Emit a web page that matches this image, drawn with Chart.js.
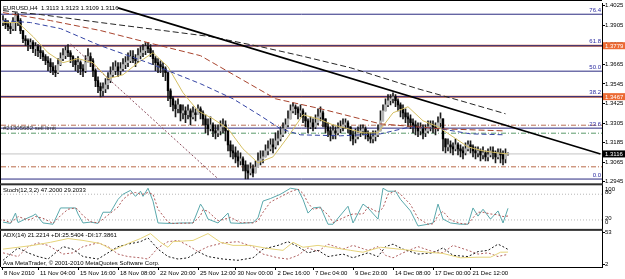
<!DOCTYPE html>
<html>
<head>
<meta charset="utf-8">
<script src="https://cdn.jsdelivr.net/npm/chart.js@4.4.0/dist/chart.umd.min.js"></script>
<style>
html, body { margin: 0; padding: 0; background: #fff; overflow: hidden; }
</style>
</head>
<body>
<canvas id="chart" width="625" height="279"></canvas>
<script>
// EURUSD H4, 8 Nov - 21 Dec 2010. prices in points: 3933 = 1.3933
let firstOpen = 3921;
let highs = [3964,3945,3933,3921,3951,3982,3976,3945,3872,3841,
  3822,3822,3810,3798,3786,3773,3749,3724,3712,3700,
  3675,3657,3700,3736,3761,3773,3786,3749,3718,3700,
  3712,3687,3663,3718,3761,3736,3700,3638,3589,3552,
  3552,3577,3614,3650,3675,3687,3675,3675,3700,3712,
  3736,3749,3749,3724,3761,3773,3786,3798,3798,3786,
  3749,3712,3700,3687,3675,3650,3614,3515,3466,3442,
  3454,3417,3417,3405,3417,3393,3405,3393,3417,3405,
  3380,3356,3331,3343,3307,3294,3294,3319,3331,3319,
  3257,3196,3171,3159,3135,3122,3098,3073,3049,3061,
  3049,3073,3122,3135,3135,3171,3196,3208,3208,3245,
  3257,3282,3307,3331,3380,3417,3429,3417,3405,3417,
  3393,3368,3331,3343,3331,3356,3393,3405,3380,3331,
  3307,3282,3294,3282,3307,3319,3331,3331,3319,3282,
  3257,3270,3282,3294,3294,3282,3257,3245,3257,3257,
  3294,3380,3417,3454,3479,3479,3491,3479,3454,3429,
  3417,3393,3368,3356,3331,3319,3307,3307,3294,3294,
  3319,3319,3319,3307,3343,3368,3331,3208,3208,3196,
  3184,3208,3184,3171,3159,3184,3196,3196,3171,3159,
  3159,3147,3159,3135,3147,3159,3159,3135,3147,3147,
  3135,3147,3123];
let lows = [3902,3884,3872,3853,3872,3872,3902,3853,3798,3779,
  3749,3761,3736,3718,3712,3700,3687,3663,3626,3614,
  3601,3589,3607,3657,3687,3700,3712,3675,3650,3626,
  3614,3601,3589,3614,3675,3650,3589,3528,3491,3466,
  3472,3491,3515,3552,3589,3601,3589,3601,3626,3638,
  3650,3675,3675,3650,3675,3700,3712,3724,3736,3712,
  3663,3626,3614,3614,3589,3565,3442,3405,3380,3343,
  3368,3319,3331,3307,3331,3294,3331,3319,3356,3331,
  3294,3245,3233,3257,3221,3208,3221,3233,3245,3196,
  3135,3098,3086,3061,3036,3049,3012,2963,2963,2987,
  2975,3000,3036,3049,3061,3098,3110,3135,3122,3147,
  3171,3196,3221,3245,3282,3331,3368,3356,3331,3343,
  3307,3282,3245,3270,3257,3270,3294,3319,3282,3245,
  3221,3196,3208,3208,3233,3245,3257,3270,3245,3196,
  3171,3184,3208,3221,3233,3208,3196,3184,3184,3196,
  3221,3257,3331,3380,3405,3417,3429,3405,3380,3343,
  3331,3307,3282,3270,3245,3233,3221,3233,3208,3221,
  3245,3257,3245,3233,3257,3282,3135,3122,3135,3122,
  3110,3135,3110,3098,3086,3110,3135,3122,3098,3086,
  3098,3073,3086,3073,3073,3098,3086,3061,3086,3061,
  3049,3061,3109];
let closes = [3933,3908,3896,3884,3921,3964,3933,3872,3822,3810,
  3786,3798,3761,3773,3749,3736,3712,3687,3675,3650,
  3626,3614,3663,3700,3718,3749,3736,3712,3687,3663,
  3675,3638,3626,3675,3712,3687,3626,3565,3528,3503,
  3515,3540,3565,3601,3626,3650,3626,3638,3663,3675,
  3687,3712,3700,3687,3718,3736,3749,3773,3761,3736,
  3700,3675,3663,3650,3638,3614,3503,3454,3417,3393,
  3417,3368,3380,3356,3380,3343,3368,3356,3393,3368,
  3331,3294,3270,3294,3257,3245,3257,3282,3294,3257,
  3171,3135,3122,3098,3073,3086,3049,3012,3000,3024,
  3000,3036,3073,3086,3098,3135,3147,3171,3159,3196,
  3208,3233,3270,3294,3331,3380,3405,3393,3368,3380,
  3343,3319,3282,3307,3282,3307,3343,3368,3331,3282,
  3257,3233,3257,3245,3270,3282,3294,3307,3282,3233,
  3208,3221,3245,3257,3270,3245,3221,3208,3221,3233,
  3257,3319,3380,3417,3442,3454,3466,3442,3417,3393,
  3368,3343,3331,3307,3294,3282,3257,3270,3245,3257,
  3282,3294,3282,3270,3307,3331,3208,3159,3171,3159,
  3147,3171,3147,3135,3122,3147,3171,3159,3135,3122,
  3135,3110,3122,3098,3110,3135,3122,3098,3122,3110,
  3086,3113,3116];

// moving averages, read at a few bars
let yellowBars = [0,6,12,18,24,30,36,42,48,54,60,66,72,78,84,90,96,102,108,114,120,126,132,138,144,150,156,162,168,174,180,186,192,198,202];
let yellowMA = [3921,3921,3835,3736,3675,3700,3675,3577,3601,3675,3736,3650,3491,3380,3331,3270,3147,3061,3098,3221,3356,3331,3294,3270,3245,3245,3368,3405,3319,3282,3221,3159,3135,3122,3116];
let blueBars = [0,11,23,39,58,79,92,103,111,119,135,151,163,175,187,201];
let blueMA = [3933,3921,3884,3779,3675,3546,3454,3350,3270,3233,3227,3239,3282,3270,3239,3233];
let brownBars = [0,19,39,58,79,95,109,127,151,175,201];
let brownMA = [3982,3933,3872,3798,3718,3577,3454,3393,3300,3270,3257];
let blackBars = [0,15,39,58,83,103,119,139,166,183,201];
let blackMA = [3994,3970,3921,3884,3835,3773,3718,3644,3515,3442,3362];

// drawn objects
let trendBars = [46, 239];
let trendPrices = [1.4011, 1.3116];
let channelBars = [27, 86];
let channelPrices = [1.3789, 1.2964];
let fibNames = ['0.0', '23.6', '38.2', '50.0', '61.8', '76.4'];
let fibPrices = [1.2962, 1.3274, 1.3467, 1.3623, 1.3779, 1.3972];
let hLinePrices = [1.3779, 1.3467];
let sellLimit = 1.3292;
let greenLevel = 1.3243;
let lowerLevel = 1.3037;
let bid = 1.3116;
let priceTicks = [1.2945, 1.3065, 1.3185, 1.3305, 1.3425, 1.3545, 1.3665, 1.3785, 1.3905, 1.4025];

// Stoch(12,3,2)
let stochBars = [0,3,5,6,10,12,13,16,20,23,26,29,30,32,35,38,40,43,46,48,51,53,55,56,58,60,62,66,68,71,76,79,80,82,86,90,91,95,100,102,104,107,111,115,118,120,122,124,127,130,132,138,140,144,146,150,152,154,157,159,163,166,170,172,174,176,179,183,186,188,190,192,195,198,200,202];
let stochMain = [15,12,36,14,25,30,34,13,10,48,48,48,34,13,15,12,38,38,68,80,89,75,87,75,94,64,13,12,12,13,13,57,48,22,13,36,13,12,14,25,64,70,80,94,91,68,36,48,50,10,10,52,13,57,48,22,94,87,87,68,41,6,10,13,57,22,13,10,10,48,29,45,22,41,13,47.2];
let stochSignal = [20,14,22,28,20,24,28,24,12,30,45,48,44,30,16,13,22,36,50,68,82,84,80,80,84,80,45,15,12,12,13,30,44,40,18,24,26,14,13,18,38,62,74,86,92,82,60,45,48,32,14,30,34,34,50,38,48,80,88,80,56,24,10,11,30,40,20,12,10,25,38,38,34,32,28,29.2];

// ADX(14)
let adxBars = [0,6,12,19,26,32,39,44,50,55,59,63,66,68,76,82,87,92,99,106,112,116,120,126,131,139,144,151,156,163,170,176,183,190,195,199,202];
let adxMain = [26,29,32,37,43,40,35,24,35,43,51,37,29,38,40,51,37,32,32,27,24,37,29,32,29,24,21,29,27,24,21,19,12,13,13,21,21.2];
let diBars = [0,6,10,14,18,24,28,32,38,42,46,50,55,58,62,66,70,74,78,82,88,94,100,104,110,114,118,122,126,130,136,140,146,150,153,156,160,166,172,176,180,186,190,194,198,200,202];
let plusDI = [8,28,20,14,10,30,26,14,10,20,30,34,38,44,26,14,10,12,22,14,10,8,12,26,32,38,30,20,24,14,18,12,20,14,30,34,26,18,20,28,16,14,22,24,34,30,25.5];
let minusDI = [20,14,30,36,32,18,20,30,36,30,18,14,12,10,28,38,40,32,22,30,36,38,30,18,12,10,16,28,22,34,26,32,24,30,16,12,20,30,22,20,32,24,18,20,14,16,17.4];

let timeBars = [-0.4,14,30,46,62,78,93,109,124,140,156,172,187];
let timeLabels = ['8 Nov 2010','11 Nov 04:00','15 Nov 16:00','18 Nov 08:00','22 Nov 20:00','25 Nov 12:00','30 Nov 00:00','2 Dec 16:00','7 Dec 04:00','9 Dec 20:00','14 Dec 08:00','17 Dec 00:00','21 Dec 12:00'];

const X_MIN = -0.8, X_MAX = 239.6;
const FONT = 'Liberation Sans';
Chart.defaults.font.family = FONT;
Chart.defaults.font.size = 6;
Chart.defaults.color = '#000';

const pt = v => 1 + v / 10000;
const same = v => v;

// candles
const opens = closes.map((c, i) => i === 0 ? firstOpen : closes[i - 1]);
const wicks = closes.map((c, i) => ({x: i, y: [pt(Math.min(lows[i], opens[i], c)), pt(Math.max(highs[i], opens[i], c))]}));
const bodies = closes.map((c, i) => ({x: i, y: [pt(opens[i]), pt(c)]}));
const bodyColors = closes.map((c, i) => c >= opens[i] ? '#b4b4b4' : '#000000');

function level(v, axis, color, width, dash) {
    return {type: 'line', data: [{x: X_MIN, y: v}, {x: X_MAX, y: v}], yAxisID: axis,
        borderColor: color, borderWidth: width, borderDash: dash || [], pointRadius: 0, order: 20};
}
function curve(bars, vals, conv, axis, color, dash, order) {
    return {type: 'line', data: bars.map((b, i) => ({x: b, y: conv(vals[i])})), yAxisID: axis,
        borderColor: color, borderWidth: 1, borderDash: dash || [], pointRadius: 0, tension: 0, order: order || 2};
}

const datasets = [];
fibPrices.forEach(p => datasets.push(level(p, 'y', '#2a2a80', 1)));
hLinePrices.forEach(p => datasets.push(level(p, 'y', '#c8643a', 2)));
datasets.push(level(sellLimit, 'y', '#b87058', 1, [5, 2, 1, 2]));
datasets.push(level(greenLevel, 'y', '#5a9a6a', 1, [5, 2, 1, 2]));
datasets.push(level(lowerLevel, 'y', '#b86a48', 1, [5, 2, 1, 2]));
datasets.push(level(bid, 'y', '#c4c4c4', 1));
datasets.push(level(80, 'ys', '#b8b8b8', 1, [1, 2]));
datasets.push(level(20, 'ys', '#b8b8b8', 1, [1, 2]));

datasets.push({type: 'bar', data: wicks, yAxisID: 'y', backgroundColor: '#1a1a1a', barThickness: 1, grouped: false, order: 6});
datasets.push({type: 'bar', data: bodies, yAxisID: 'y', backgroundColor: bodyColors, barThickness: 1.7, grouped: false, minBarLength: 1, order: 5});

datasets.push(curve(blackBars, blackMA, pt, 'y', '#262626', [6, 3]));
datasets.push(curve(brownBars, brownMA, pt, 'y', '#a8442e', [6, 3]));
datasets.push(curve(blueBars, blueMA, pt, 'y', '#3444a4', [5, 3]));
datasets.push(curve(yellowBars, yellowMA, pt, 'y', '#d6c064'));
datasets.push(curve(channelBars, channelPrices.map(p => p * 10000 - 10000), pt, 'y', '#8a4c5c', [2, 2]));
datasets.push(curve(trendBars, trendPrices, same, 'y', '#000', [], 1));
datasets[datasets.length - 1].borderWidth = 1.6;

datasets.push(curve(stochBars, stochSignal, same, 'ys', '#b05a5a', [2, 2]));
datasets.push(curve(stochBars, stochMain, same, 'ys', '#5aa8ac'));
datasets.push(curve(adxBars, adxMain, same, 'ya', '#e6d47a'));
datasets.push(curve(diBars, plusDI, same, 'ya', '#1a1a1a', [2, 2]));
datasets.push(curve(diBars, minusDI, same, 'ya', '#b06060', [2, 2]));

const overlay = {
    id: 'overlay',
    afterDatasetsDraw(chart) {
        const {ctx, chartArea: a, scales} = chart;
        const y = scales.y, ys = scales.ys, ya = scales.ya;
        ctx.save();
        ctx.font = '6px ' + FONT;
        ctx.textBaseline = 'bottom';
        ctx.textAlign = 'right';
        ctx.fillStyle = '#2a2aa0';
        fibNames.forEach((n, k) => ctx.fillText(n, a.right - 1, y.getPixelForValue(fibPrices[k]) - 1));

        ctx.textAlign = 'left';
        ctx.textBaseline = 'middle';
        ctx.fillStyle = '#303030';
        ctx.fillText('#21305682 sell limit', a.left + 2, y.getPixelForValue(1.3274) + 0.5);
        ctx.fillStyle = '#000';
        ctx.fillText('EURUSD,H4  1.3113 1.3123 1.3109 1.3116', a.left + 2, a.top + 4.5);
        ctx.fillText('Stoch(12,3,2) 47.2000 29.2033', a.left + 2, ys.top + 6.5);
        ctx.fillText('ADX(14) 21.2214 +DI:25.5404 -DI:17.3861', a.left + 2, ya.top + 5.5);
        ctx.fillText('Ava MetaTrader, \u00a9 2001-2010 MetaQuotes Software Corp.', a.left + 2, ya.bottom - 4);
        ctx.restore();
    },
    afterDraw(chart) {
        const {ctx, chartArea: a, scales} = chart;
        const y = scales.y, ys = scales.ys;
        ctx.save();
        ctx.fillStyle = '#000';
        ctx.fillRect(0, 0, a.right, 1);
        ctx.fillRect(0, 0, 1, a.bottom);
        ctx.fillStyle = '#303030';
        ctx.fillRect(0, ys.top - 1, a.right + 1, 2);
        ctx.fillRect(0, scales.ya.top - 1, a.right + 1, 2);

        ctx.font = '6px ' + FONT;
        ctx.textBaseline = 'middle';
        ctx.textAlign = 'left';
        const p80 = ys.getPixelForValue(80), p20 = ys.getPixelForValue(20);
        ctx.fillStyle = '#000';
        ctx.fillText('100', a.right + 3, p80 - 5);
        ctx.fillText('80', a.right + 3, p80 - 2);
        ctx.fillText('20', a.right + 3, p20 - 1.5);
        ctx.fillText('0', a.right + 3, p20 + 2);

        const boxes = [[1.3779, '#ec6a34'], [1.3467, '#ec6a34'], [bid, '#000']];
        boxes.forEach(([p, col]) => {
            const py = y.getPixelForValue(p);
            ctx.fillStyle = col;
            ctx.fillRect(a.right + 1, py - 3.5, 625 - a.right, 7);
            ctx.fillStyle = '#fff';
            ctx.fillText(p.toFixed(4), a.right + 3, py + 0.5);
        });
        ctx.restore();
    }
};

new Chart(document.getElementById('chart'), {
    type: 'bar',
    data: {datasets: datasets},
    options: {
        responsive: false,
        animation: false,
        events: [],
        layout: {padding: {top: 1, left: 1, right: 0, bottom: 0}},
        plugins: {legend: {display: false}, tooltip: {enabled: false}},
        scales: {
            x: {
                type: 'linear', position: 'bottom', min: X_MIN, max: X_MAX, offset: false,
                afterFit: s => { s.height = 12; },
                afterBuildTicks: s => { s.ticks = timeBars.map(v => ({value: v})); },
                ticks: {autoSkip: false, maxRotation: 0, align: 'start', labelOffset: 2, padding: 0,
                    callback: (v, i) => timeLabels[i]},
                grid: {drawOnChartArea: false, offset: false, tickLength: 3, color: '#000'},
                border: {color: '#000'}
            },
            y: {
                type: 'linear', position: 'right', stack: 'panes', stackWeight: 182.5,
                min: 1.29298, max: 1.40371,
                afterFit: s => { s.width = 23; },
                afterBuildTicks: s => { s.ticks = priceTicks.map(v => ({value: v})); },
                ticks: {padding: 0, callback: v => v.toFixed(4)},
                grid: {drawOnChartArea: false, tickLength: 3, color: '#000'},
                border: {color: '#000'}
            },
            ys: {
                type: 'linear', position: 'right', stack: 'panes', stackWeight: 46,
                min: -3.1, max: 103.1,
                afterFit: s => { s.width = 23; },
                ticks: {display: false},
                grid: {drawOnChartArea: false, drawTicks: false},
                border: {color: '#000'}
            },
            ya: {
                type: 'linear', position: 'right', stack: 'panes', stackWeight: 37.5,
                min: -2.8, max: 57,
                afterFit: s => { s.width = 23; },
                afterBuildTicks: s => { s.ticks = [2, 53].map(v => ({value: v})); },
                ticks: {padding: 0},
                grid: {drawOnChartArea: false, tickLength: 3, color: '#000'},
                border: {color: '#000'}
            }
        }
    },
    plugins: [overlay]
});
</script>
</body>
</html>
